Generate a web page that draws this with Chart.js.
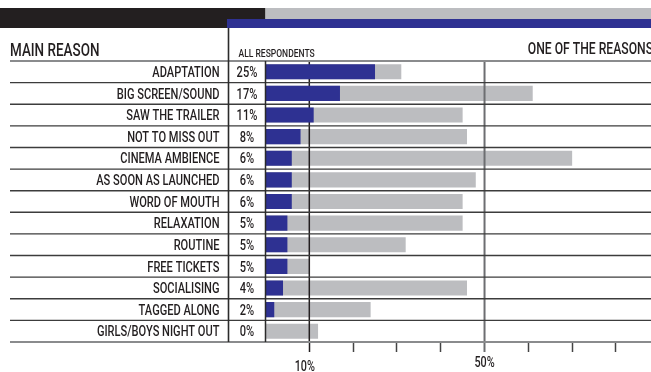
<!DOCTYPE html>
<html>
<head>
<meta charset="utf-8">
<script src="https://cdn.jsdelivr.net/npm/chart.js@4.4.1/dist/chart.umd.min.js"></script>
<style>
  html, body { margin: 0; padding: 0; background: #fff; }
  canvas { display: block; }
</style>
</head>
<body>
<canvas id="chart" width="651" height="372"></canvas>
<script>
// Reasons for going to the cinema
const reasons = [
  'ADAPTATION', 'BIG SCREEN/SOUND', 'SAW THE TRAILER', 'NOT TO MISS OUT',
  'CINEMA AMBIENCE', 'AS SOON AS LAUNCHED', 'WORD OF MOUTH', 'RELAXATION',
  'ROUTINE', 'FREE TICKETS', 'SOCIALISING', 'TAGGED ALONG', 'GIRLS/BOYS NIGHT OUT'
];
// Share naming it as the main reason (%)
const mainReason = [25, 17, 11, 8, 6, 6, 6, 5, 5, 5, 4, 2, 0];
// Share naming it as one of the reasons (%)
const oneOfReasons = [31, 61, 45, 46, 70, 48, 45, 45, 32, 10, 46, 24, 12];
// Axis values that carry a label and a full-height rule
const labelledTicks = [10, 50];

const INK = '#231f20';
const BLUE = '#2e3192';
const GREY = '#bcbdc0';
const FONT = 'Roboto, "Liberation Sans", sans-serif';

function condensedText(ctx, text, x, y, o) {
  ctx.save();
  ctx.font = `${o.weight || 500} ${o.size}px ${FONT}`;
  ctx.fillStyle = o.color || INK;
  ctx.textAlign = o.align || 'left';
  ctx.textBaseline = 'alphabetic';
  ctx.translate(x, y);
  ctx.scale(o.sx || 0.72, 1);
  ctx.fillText(text, 0, 0);
  ctx.restore();
}

function hLine(ctx, x1, x2, y, color, w) {
  ctx.save();
  ctx.strokeStyle = color;
  ctx.lineWidth = w;
  ctx.beginPath();
  ctx.moveTo(x1, y);
  ctx.lineTo(x2, y);
  ctx.stroke();
  ctx.restore();
}

function vLine(ctx, x, y1, y2, color, w) {
  ctx.save();
  ctx.strokeStyle = color;
  ctx.lineWidth = w;
  ctx.beginPath();
  ctx.moveTo(x, y1);
  ctx.lineTo(x, y2);
  ctx.stroke();
  ctx.restore();
}

const ruleStyle = v => v === 10 ? { color: INK, width: 1.5 } : { color: '#6d6e71', width: 2 };

const tablePlugin = {
  id: 'table',
  beforeDraw(chart) {
    const ctx = chart.ctx;
    ctx.save();
    ctx.fillStyle = '#fff';
    ctx.fillRect(0, 0, chart.width, chart.height);
    ctx.restore();
  },
  // full-height rules sit above the grey bars but under the blue ones
  afterDatasetDraw(chart, args) {
    if (args.index !== 1) return;
    const { ctx, chartArea, scales: { x } } = chart;
    labelledTicks.forEach(v => {
      const s = ruleStyle(v);
      vLine(ctx, x.getPixelForValue(v), chartArea.top, chartArea.bottom, s.color, s.width);
    });
  },
  afterDraw(chart) {
    const { ctx, chartArea, scales: { x, y } } = chart;
    const left = 10, right = chart.width;
    const labelDivider = 228.5;
    const barLeft = chartArea.left;

    // header strips
    ctx.save();
    ctx.fillStyle = INK;
    ctx.fillRect(0, 8, barLeft, 20);
    ctx.fillStyle = GREY;
    ctx.fillRect(barLeft, 8, right - barLeft, 11);
    ctx.fillStyle = BLUE;
    ctx.fillRect(labelDivider - 1.5, 19, right - labelDivider + 1.5, 9);
    ctx.restore();

    // header titles
    condensedText(ctx, 'MAIN REASON', left, 56, { size: 18.7, weight: 500 });
    condensedText(ctx, 'ALL RESPONDENTS', 238.5, 56.7, { size: 10.4, sx: 0.82, weight: 500 });
    condensedText(ctx, 'ONE OF THE REASONS', 653, 54.3, { size: 16.9, align: 'right', weight: 500 });

    // row separators
    for (let i = 0; i < reasons.length - 1; i++) {
      const yb = (y.getPixelForValue(i) + y.getPixelForValue(i + 1)) / 2;
      hLine(ctx, left, right, yb, '#3c3c3c', 1.4);
    }
    hLine(ctx, left, right, chartArea.top, '#8a8b8d', 2);
    hLine(ctx, left, right, chartArea.bottom, '#8a8b8d', 2);

    // column dividers
    vLine(ctx, labelDivider, 28, chartArea.bottom, '#2b2b2b', 1.6);
    vLine(ctx, barLeft, chartArea.top, chartArea.bottom, '#2b2b2b', 1.5);

    // row labels and main-reason values
    reasons.forEach((r, i) => {
      const yc = y.getPixelForValue(i);
      condensedText(ctx, r, 219.5, yc + 5.2, { size: 15.4, align: 'right' });
      condensedText(ctx, mainReason[i] + '%', (labelDivider + barLeft) / 2, yc + 5.2, { size: 15.4, align: 'center' });
    });

    // axis labels
    const nudge = { 10: { dx: -4.5, dy: 4 }, 50: { dx: 0, dy: 0 } };
    labelledTicks.forEach(v => {
      const n = nudge[v] || { dx: 0, dy: 0 };
      condensedText(ctx, v + '%', x.getPixelForValue(v) + n.dx, 366.5 + n.dy, { size: 15, align: 'center' });
    });
  }
};

new Chart(document.getElementById('chart'), {
  type: 'bar',
  data: {
    labels: reasons,
    datasets: [
      {
        label: 'Main reason',
        data: mainReason,
        backgroundColor: BLUE,
        grouped: false,
        barPercentage: 0.7,
        categoryPercentage: 1
      },
      {
        label: 'One of the reasons',
        data: oneOfReasons,
        backgroundColor: GREY,
        grouped: false,
        barPercentage: 0.7,
        categoryPercentage: 1
      }
    ]
  },
  options: {
    indexAxis: 'y',
    responsive: false,
    devicePixelRatio: 1,
    animation: false,
    events: [],
    layout: { padding: { top: 61, bottom: 20, left: 265.5, right: 0 } },
    plugins: { legend: { display: false }, tooltip: { enabled: false } },
    scales: {
      x: {
        type: 'linear',
        min: 0,
        max: 88,
        position: 'bottom',
        border: { display: false },
        ticks: { display: false, stepSize: 10 },
        grid: {
          drawOnChartArea: false,
          drawTicks: true,
          tickLength: 10,
          tickColor: c => {
            const v = c.tick && c.tick.value;
            if (!v || v % 10 !== 0) return 'rgba(0,0,0,0)';
            return labelledTicks.includes(v) ? ruleStyle(v).color : '#444';
          },
          tickWidth: c => {
            const v = c.tick && c.tick.value;
            return labelledTicks.includes(v) ? ruleStyle(v).width : 1.5;
          }
        }
      },
      y: {
        type: 'category',
        display: false
      }
    }
  },
  plugins: [tablePlugin]
});
</script>
</body>
</html>
